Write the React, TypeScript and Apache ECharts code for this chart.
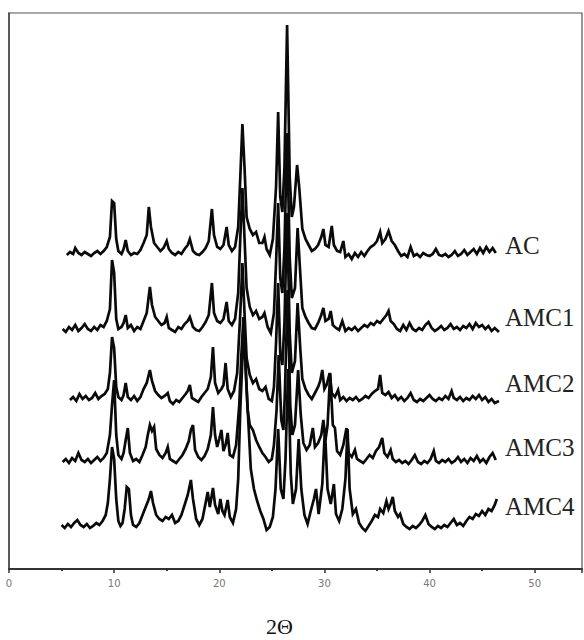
import React, { useEffect, useRef } from "react";
import * as echarts from "echarts";

// 2θ (degrees) vs intensity (arbitrary units above each pattern's own baseline)
const SERIES_NAMES = ["AC", "AMC1", "AMC2", "AMC3", "AMC4"];
const OFFSETS = [312, 236, 166, 104, 40];
const X_TICKS = [0, 10, 20, 30, 40, 50];

const AC: number[][] = [
  [5.5,2],[5.8,5],[6.1,3],[6.3,9],[6.6,4],[6.9,2],[7.2,5],[7.5,3],[7.8,1],[8.1,4],[8.4,6],[8.7,3],[9.0,6],[9.3,10],
  [9.6,20],[9.8,56],[10.0,54],[10.2,18],[10.4,6],[10.7,3],[10.9,8],[11.1,17],[11.3,6],[11.6,2],[11.9,4],[12.2,3],[12.5,7],
  [12.8,14],[13.1,22],[13.3,50],[13.5,30],[13.8,14],[14.1,10],[14.4,6],[14.7,9],[15.0,16],[15.2,8],[15.5,4],[15.8,2],
  [16.1,5],[16.4,3],[16.7,8],[17.0,12],[17.2,18],[17.5,6],[17.8,3],[18.1,2],[18.4,5],[18.7,9],[19.0,16],[19.3,48],
  [19.5,22],[19.8,10],[20.1,8],[20.4,12],[20.7,30],[20.9,12],[21.2,6],[21.5,10],[21.8,30],[22.0,80],[22.2,133],[22.4,90],
  [22.6,40],[22.9,28],[23.2,22],[23.5,25],[23.8,14],[24.1,14],[24.3,20],[24.5,8],[24.8,2],[25.1,18],[25.4,70],[25.6,145],
  [25.8,60],[26.0,45],[26.2,90],[26.45,232],[26.7,80],[26.9,40],[27.1,50],[27.4,92],[27.6,70],[27.9,28],[28.2,18],
  [28.5,12],[28.8,6],[29.1,8],[29.4,12],[29.7,20],[29.9,28],[30.1,12],[30.4,10],[30.7,31],[30.9,12],[31.2,6],[31.5,5],
  [31.8,16],[32.0,0],[32.3,3],[32.6,-2],[32.9,4],[33.2,0],[33.5,5],[33.8,1],[34.1,6],[34.4,10],[34.7,12],[35.0,16],
  [35.3,25],[35.5,14],[35.8,18],[36.1,26],[36.4,16],[36.7,12],[37.0,6],[37.3,1],[37.6,3],[37.9,0],[38.2,10],[38.5,1],
  [38.8,3],[39.1,0],[39.4,4],[39.7,2],[40.0,1],[40.3,3],[40.6,8],[40.9,2],[41.2,1],[41.5,3],[41.8,0],[42.1,2],[42.4,6],
  [42.7,1],[43.0,3],[43.3,7],[43.6,2],[43.9,5],[44.2,8],[44.5,3],[44.8,9],[45.1,4],[45.4,10],[45.7,5],[46.0,9],[46.3,4]
];

const AMC1: number[][] = [
  [5.1,4],[5.4,1],[5.7,6],[6.0,3],[6.3,8],[6.6,2],[6.9,5],[7.2,9],[7.5,4],[7.8,2],[8.1,6],[8.4,3],[8.7,8],[9.0,6],[9.3,12],
  [9.6,24],[9.8,73],[10.0,60],[10.2,14],[10.4,4],[10.7,6],[10.9,10],[11.1,18],[11.3,5],[11.6,8],[11.9,2],[12.2,6],[12.5,4],
  [12.8,12],[13.1,20],[13.4,46],[13.6,28],[13.9,16],[14.2,12],[14.5,8],[14.8,10],[15.0,16],[15.2,5],[15.5,3],[15.8,1],
  [16.1,6],[16.4,4],[16.7,9],[17.0,12],[17.2,16],[17.5,6],[17.8,3],[18.1,2],[18.4,6],[18.7,11],[19.0,18],[19.3,50],
  [19.5,20],[19.8,12],[20.1,10],[20.4,14],[20.7,31],[20.9,12],[21.2,8],[21.5,14],[21.8,40],[22.0,95],[22.2,145],[22.4,95],
  [22.6,45],[22.9,26],[23.2,18],[23.5,22],[23.8,14],[24.1,16],[24.3,20],[24.6,6],[24.9,0],[25.2,20],[25.4,70],[25.6,130],
  [25.8,55],[26.0,40],[26.2,85],[26.45,200],[26.7,75],[26.9,35],[27.2,45],[27.45,105],[27.7,60],[27.9,25],[28.2,16],
  [28.5,10],[28.8,5],[29.1,4],[29.4,10],[29.7,18],[29.9,25],[30.1,12],[30.4,14],[30.6,22],[30.8,8],[31.1,5],[31.4,3],
  [31.7,12],[32.0,2],[32.3,5],[32.6,3],[32.9,6],[33.2,2],[33.5,5],[33.8,8],[34.1,6],[34.4,10],[34.7,8],[35.0,12],
  [35.3,10],[35.6,14],[35.9,18],[36.1,22],[36.3,12],[36.6,9],[36.9,4],[37.2,2],[37.5,8],[37.8,3],[38.1,10],[38.4,4],
  [38.7,2],[39.0,5],[39.3,3],[39.6,8],[39.9,11],[40.2,5],[40.5,2],[40.8,4],[41.1,7],[41.4,3],[41.7,5],[42.0,9],[42.3,4],
  [42.6,6],[42.9,3],[43.2,7],[43.5,5],[43.8,9],[44.1,4],[44.4,10],[44.7,6],[45.0,8],[45.3,4],[45.6,7],[45.9,2],[46.2,5],[46.6,1]
];

const AMC2: number[][] = [
  [5.8,3],[6.1,6],[6.4,2],[6.7,9],[7.0,4],[7.3,7],[7.6,3],[7.9,5],[8.2,10],[8.5,4],[8.8,7],[9.1,9],[9.4,14],[9.6,30],
  [9.8,66],[10.0,55],[10.2,16],[10.4,6],[10.7,3],[10.9,8],[11.1,20],[11.3,6],[11.6,3],[11.9,7],[12.2,2],[12.5,6],[12.8,14],
  [13.1,20],[13.4,33],[13.6,22],[13.9,12],[14.2,8],[14.5,5],[14.8,7],[15.1,10],[15.3,2],[15.6,-1],[15.9,3],[16.2,1],
  [16.5,5],[16.8,9],[17.0,12],[17.2,18],[17.4,5],[17.7,3],[18.0,1],[18.3,6],[18.6,10],[18.9,14],[19.2,26],[19.4,56],
  [19.6,20],[19.9,10],[20.2,14],[20.4,18],[20.6,40],[20.8,14],[21.1,6],[21.4,12],[21.7,30],[22.0,90],[22.2,140],[22.4,90],
  [22.6,45],[22.9,28],[23.2,20],[23.5,24],[23.8,14],[24.1,12],[24.4,16],[24.7,4],[25.0,2],[25.2,16],[25.4,60],[25.6,120],
  [25.8,50],[26.0,38],[26.2,80],[26.45,190],[26.7,70],[26.9,30],[27.2,42],[27.45,100],[27.7,55],[27.9,24],[28.2,14],
  [28.5,8],[28.8,4],[29.1,10],[29.4,16],[29.6,22],[29.8,33],[30.0,14],[30.2,18],[30.5,30],[30.7,10],[31.0,6],[31.3,13],
  [31.5,3],[31.8,6],[32.1,2],[32.4,5],[32.7,3],[33.0,6],[33.3,2],[33.6,4],[33.9,7],[34.2,5],[34.5,9],[34.8,12],[35.1,14],
  [35.3,28],[35.5,10],[35.8,8],[36.1,11],[36.4,5],[36.7,8],[37.0,3],[37.3,6],[37.6,2],[37.9,5],[38.2,10],[38.5,3],
  [38.8,1],[39.1,4],[39.4,2],[39.7,5],[40.0,8],[40.3,4],[40.6,2],[40.9,5],[41.2,3],[41.5,7],[41.8,4],[42.1,12],[42.3,5],
  [42.6,3],[42.9,6],[43.2,2],[43.5,5],[43.8,3],[44.1,7],[44.4,4],[44.7,8],[45.0,3],[45.3,6],[45.6,1],[45.9,4],[46.2,0],[46.6,2]
];

const AMC3: number[][] = [
  [5.1,3],[5.4,6],[5.7,2],[6.0,7],[6.3,4],[6.6,12],[6.9,5],[7.2,3],[7.5,6],[7.8,2],[8.1,5],[8.4,8],[8.7,4],[9.0,7],[9.3,12],
  [9.6,30],[9.8,60],[10.0,85],[10.2,30],[10.4,10],[10.7,6],[10.9,12],[11.1,25],[11.3,37],[11.5,12],[11.8,4],[12.1,6],
  [12.4,3],[12.7,10],[13.0,18],[13.2,30],[13.4,40],[13.6,34],[13.8,38],[14.0,16],[14.3,10],[14.6,7],[14.9,12],[15.1,18],
  [15.3,6],[15.6,4],[15.9,2],[16.2,6],[16.5,10],[16.8,16],[17.1,24],[17.3,35],[17.5,40],[17.7,15],[18.0,8],[18.3,5],
  [18.6,9],[18.9,16],[19.2,30],[19.4,58],[19.6,30],[19.8,18],[20.0,26],[20.2,35],[20.4,14],[20.6,20],[20.8,32],[21.0,10],
  [21.3,8],[21.6,20],[21.9,60],[22.1,110],[22.3,148],[22.5,100],[22.7,55],[22.9,40],[23.2,35],[23.5,25],[23.8,18],
  [24.1,12],[24.4,8],[24.7,3],[25.0,6],[25.2,20],[25.45,55],[25.65,110],[25.9,45],[26.1,35],[26.25,75],[26.5,175],
  [26.75,60],[26.95,30],[27.2,40],[27.5,95],[27.75,50],[28.0,22],[28.3,15],[28.6,20],[28.9,37],[29.1,18],[29.4,22],
  [29.7,30],[29.9,45],[30.1,25],[30.3,40],[30.55,92],[30.8,40],[31.0,37],[31.2,14],[31.5,10],[31.8,20],[32.1,37],[32.3,12],
  [32.6,8],[32.9,15],[33.1,6],[33.4,4],[33.7,2],[34.0,6],[34.3,10],[34.6,7],[34.9,14],[35.2,18],[35.5,27],[35.7,12],
  [36.0,8],[36.3,15],[36.5,6],[36.8,3],[37.1,5],[37.4,2],[37.7,4],[38.0,1],[38.3,5],[38.6,10],[38.9,3],[39.2,1],[39.5,4],
  [39.8,2],[40.1,6],[40.4,14],[40.6,4],[40.9,2],[41.2,5],[41.5,3],[41.8,6],[42.1,2],[42.4,4],[42.7,8],[43.0,3],[43.3,6],
  [43.6,2],[43.9,7],[44.2,4],[44.5,9],[44.8,3],[45.1,6],[45.4,2],[45.7,8],[46.0,12],[46.3,5]
];

const AMC4: number[][] = [
  [5.0,4],[5.3,1],[5.6,5],[5.9,2],[6.2,6],[6.5,9],[6.8,4],[7.1,2],[7.4,5],[7.7,1],[8.0,3],[8.3,6],[8.6,4],[8.9,8],[9.2,14],
  [9.4,26],[9.6,50],[9.8,82],[10.0,70],[10.2,30],[10.4,8],[10.6,3],[10.8,6],[11.0,20],[11.2,42],[11.4,40],[11.6,14],
  [11.8,4],[12.1,2],[12.4,6],[12.7,14],[13.0,22],[13.3,30],[13.5,38],[13.7,26],[14.0,14],[14.3,10],[14.6,8],[14.9,12],
  [15.2,10],[15.5,14],[15.8,6],[16.1,8],[16.4,14],[16.7,24],[17.0,34],[17.3,49],[17.5,30],[17.8,10],[18.1,4],[18.4,10],
  [18.7,26],[18.9,37],[19.1,22],[19.4,41],[19.6,24],[19.9,15],[20.1,30],[20.3,18],[20.5,14],[20.8,29],[21.0,12],[21.3,6],
  [21.6,20],[21.8,50],[22.0,120],[22.2,170],[22.4,185],[22.6,140],[22.8,100],[23.0,60],[23.3,40],[23.6,28],[23.9,18],
  [24.2,10],[24.5,-1],[24.8,2],[25.1,12],[25.35,40],[25.6,100],[25.85,40],[26.1,30],[26.3,70],[26.55,160],[26.8,55],
  [27.0,25],[27.3,40],[27.55,90],[27.8,40],[28.1,14],[28.4,5],[28.7,18],[29.0,30],[29.2,40],[29.45,15],[29.8,45],
  [30.05,100],[30.3,40],[30.6,25],[30.9,45],[31.1,15],[31.4,8],[31.7,20],[32.0,50],[32.2,100],[32.4,40],[32.7,15],
  [33.0,20],[33.3,6],[33.6,1],[33.9,-2],[34.2,3],[34.5,8],[34.8,14],[35.1,12],[35.3,20],[35.6,16],[35.9,28],[36.1,20],
  [36.3,25],[36.5,32],[36.7,18],[37.0,12],[37.2,15],[37.5,5],[37.8,2],[38.1,0],[38.4,3],[38.7,1],[39.0,4],[39.3,8],
  [39.6,14],[39.9,5],[40.2,2],[40.5,0],[40.8,3],[41.1,1],[41.4,4],[41.7,2],[42.0,6],[42.3,10],[42.6,4],[42.9,6],[43.2,3],
  [43.5,8],[43.8,12],[44.1,10],[44.4,15],[44.7,13],[45.0,18],[45.3,14],[45.6,20],[45.9,18],[46.2,24],[46.4,30]
];

const PATTERNS = [AC, AMC1, AMC2, AMC3, AMC4];

export default function App() {
  const ref = useRef<HTMLDivElement>(null);

  useEffect(() => {
    if (!ref.current) return;
    const chart = echarts.init(ref.current, null, { renderer: "svg" });
    const labelY = [245, 317, 383, 447, 506];

    const series = PATTERNS.map((pts, i) => ({
      name: SERIES_NAMES[i],
      type: "line",
      data: pts.map((p) => [p[0], p[1] + OFFSETS[i]]),
      symbol: "none",
      smooth: false,
      lineStyle: { color: "#0a0a0a", width: 2.7, join: "miter" },
      z: 2 + i,
    }));

    chart.setOption({
      animation: false,
      backgroundColor: "#fff",
      grid: {
        left: 9,
        right: 2,
        top: 13,
        bottom: 71,
        show: true,
        borderColor: "#555",
        borderWidth: 1.2,
        backgroundColor: "transparent",
      },
      xAxis: {
        type: "value",
        min: 0,
        max: 54.5,
        interval: 10,
        axisLine: { show: true, lineStyle: { color: "#333", width: 2 } },
        axisTick: { show: true, length: 4, inside: false, lineStyle: { color: "#333", width: 1.5 } },
        minorTick: { show: true, splitNumber: 2, length: 2, lineStyle: { color: "#333", width: 2 } },
        splitLine: { show: false },
        axisLabel: {
          show: true,
          margin: 9,
          color: "#777",
          fontSize: 10,
          fontFamily: "DejaVu Sans",
          showMaxLabel: false,
          formatter: (v: number) => (X_TICKS.indexOf(v) >= 0 ? String(v) : ""),
        },
      },
      yAxis: {
        type: "value",
        min: 0,
        max: 556,
        axisLine: { show: true, lineStyle: { color: "#444", width: 1.5 } },
        axisTick: { show: false },
        axisLabel: { show: false },
        splitLine: { show: false },
      },
      series,
      graphic: [
        ...SERIES_NAMES.map((name, i) => ({
          type: "text",
          x: 505,
          y: labelY[i],
          style: {
            text: name,
            fontSize: 25,
            fontFamily: "Liberation Serif",
            fill: "#222",
            verticalAlign: "middle",
            align: "left",
          },
        })),
        {
          type: "text",
          x: 266,
          y: 626,
          style: {
            text: "2Θ",
            fontSize: 22,
            fontFamily: "Liberation Serif",
            fill: "#111",
            verticalAlign: "middle",
            align: "left",
          },
        },
      ],
    });

    return () => chart.dispose();
  }, []);

  return (
    <div
      ref={ref}
      style={{ position: "fixed", left: 0, top: 0, width: 584, height: 640, background: "#fff" }}
    />
  );
}
